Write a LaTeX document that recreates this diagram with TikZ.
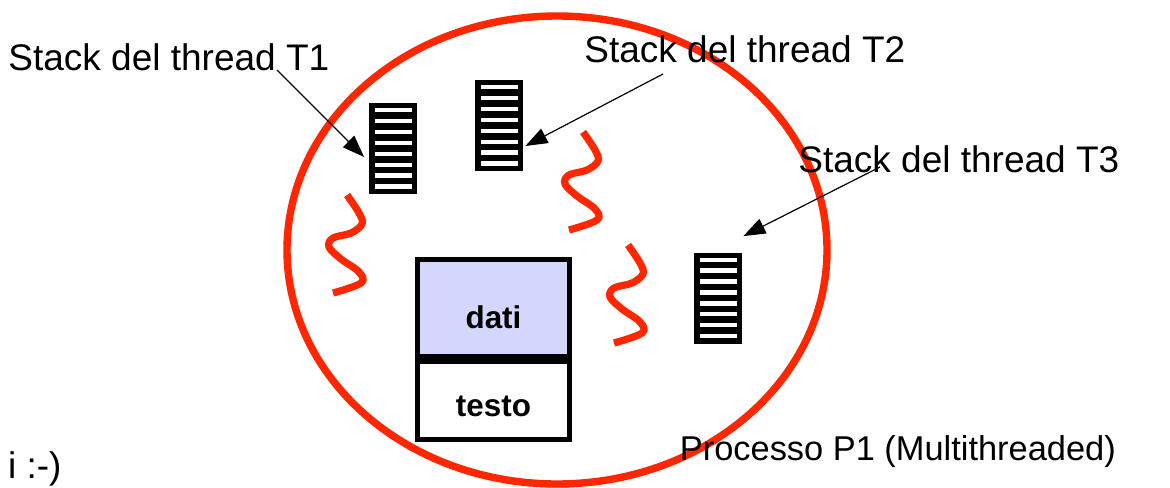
\documentclass[tikz,border=0pt]{standalone}
\usepackage{fontspec}
\setmainfont{Liberation Sans}
\usetikzlibrary{positioning,arrows.meta}
\definecolor{threadred}{RGB}{255,38,0}
\definecolor{datablue}{RGB}{213,214,254}

\begin{document}
\begin{tikzpicture}[x=0.5pt,y=-0.5pt,
    stackbox/.style={fill=black,minimum width=24pt,minimum height=45.5pt,inner sep=0pt,
      path picture={\foreach \k in {0,...,7}
        \fill[white] ([xshift=3pt,yshift={-(2.5+5.45*\k)*1pt}]path picture bounding box.north west) rectangle ++(18.5pt,-2.2pt);}},
    stacklabel/.style={inner sep=0pt,anchor=base west,font=\fontsize{18.5}{22}\selectfont},
    memblock/.style={draw,line width=2.5pt,minimum width=76pt,inner sep=0pt},
    memtext/.style={inner sep=0pt,font=\bfseries\fontsize{15.7}{18}\selectfont},
    pointer/.style={-{Triangle[length=11pt,width=8pt]},line width=0.6pt},
    threadline/.pic={\draw[threadred,line width=3.6pt] plot[smooth,tension=0.6]
      coordinates {(0,0) (12,18) (15,29) (4,38) (-14,43) (-18,52) (-6,64) (12,77) (14,88) (-14,98)};}]
    \useasboundingbox (0,0) rectangle (1170,487);
    \draw[threadred,line width=3.7pt] (557,250) ellipse [x radius=135pt,y radius=117pt];

    \node[stackbox] (s1) at (392.5,148.5) {};
    \node[stackbox] (s2) at (499,125.5) {};
    \node[stackbox] (s3) at (718,298) {};

    \node[memblock,fill=datablue,minimum height=48.25pt,
      label={[memtext,yshift=-5pt]center:dati}] (dati) at (493.5,307.75) {};
    \node[memblock,minimum height=39.25pt,below=0pt of dati,
      label={[memtext,yshift=-3pt]center:testo}] (testo) {};

    \pic at (347,195) {threadline};
    \pic at (583,132) {threadline};
    \pic at (628,245) {threadline};

    \node[stacklabel] (lbl1) at (8,70) {Stack del thread T1};
    \node[stacklabel] (lbl2) at (584,62) {Stack del thread T2};
    \node[stacklabel] (lbl3) at (798,172) {Stack del thread T3};
    \node[stacklabel,font=\fontsize{17.2}{20}\selectfont] (proc) at (679.5,460) {Processo P1 (Multithreaded)};
    \node[stacklabel,anchor=base east] (smile) at (62,478) {i :-)};

    \coordinate (from1) at (277,70);
    \coordinate (from2) at (663,74);
    \coordinate (from3) at (880,167);
    \draw[pointer] (from1) -- ([xshift=-2pt,yshift=-4.25pt]s1.west);
    \draw[pointer] (from2) -- ([xshift=1pt,yshift=-10.25pt]s2.east);
    \draw[pointer] (from3) -- ([xshift=0.5pt,yshift=8pt]s3.north east);
\end{tikzpicture}
\end{document}
